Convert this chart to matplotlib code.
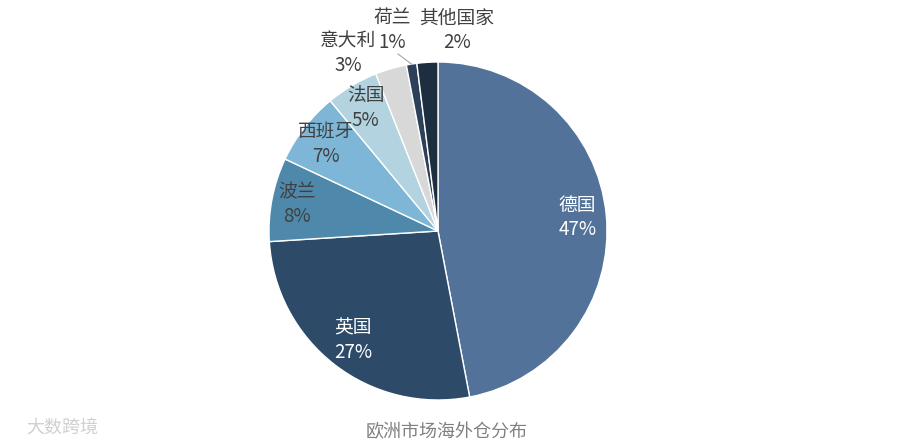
import matplotlib
matplotlib.use("Agg")
import matplotlib.pyplot as plt
import numpy as np

plt.rcParams['font.family'] = ['Noto Sans CJK SC', 'DejaVu Sans']

countries = ['德国', '英国', '波兰', '西班牙', '法国', '意大利', '荷兰', '其他国家']
shares = [47, 27, 8, 7, 5, 3, 1, 2]
colors = ['#52729a', '#2d4b68', '#4e88aa', '#7db6d6', '#b2d3df', '#d8d8d8', '#2c4059', '#1d2e40']
title = '欧洲市场海外仓分布'

W, H = 900, 445
fig = plt.figure(figsize=(9, 4.45), dpi=100)
ax = fig.add_axes([0, 0, 1, 1])

cx, cy, R = 438, H - 231, 169
wedges, _ = ax.pie(shares, colors=colors, startangle=90, counterclock=False,
                   center=(cx, cy), radius=R, frame=True,
                   wedgeprops=dict(edgecolor='white', linewidth=1.0))
ax.set_xlim(0, W)
ax.set_ylim(0, H)
ax.set_aspect('equal')
ax.axis('off')

FS = 13.5
# inside labels
inside_r = {0: 0.83, 1: 0.82, 2: 0.85, 3: 0.84, 4: 0.84}
for i, w in enumerate(wedges):
    if i not in inside_r:
        continue
    mid = np.deg2rad((w.theta1 + w.theta2) / 2)
    r = R * inside_r[i]
    x, y = cx + r * np.cos(mid), cy + r * np.sin(mid)
    col = 'white' if i < 2 else '#404040'
    ax.text(x, y, f'{countries[i]}\n{shares[i]}%', ha='center', va='center',
            fontsize=FS, color=col, linespacing=1.2)

# outside labels
ax.text(348, H - 53, f'{countries[5]}\n{shares[5]}%', ha='center', va='center',
        fontsize=FS, color='#404040', linespacing=1.2)
ax.text(392, H - 30, f'{countries[6]}\n{shares[6]}%', ha='center', va='center',
        fontsize=FS, color='#404040', linespacing=1.2)
ax.text(457, H - 30, f'{countries[7]}\n{shares[7]}%', ha='center', va='center',
        fontsize=FS, color='#404040', linespacing=1.2)
w = wedges[6]
mid = np.deg2rad((w.theta1 + w.theta2) / 2)
ax.plot([398, cx + R * np.cos(mid)], [H - 54, cy + R * np.sin(mid)],
        color='#a6a6a6', linewidth=0.8)

ax.text(447, H - 432, title, ha='center', va='center', fontsize=13, color='#808080')
ax.text(62, H - 428, '大数跨境', ha='center', va='center', fontsize=13, color='#d0d0d0')

fig.savefig('out.png', dpi=100)
